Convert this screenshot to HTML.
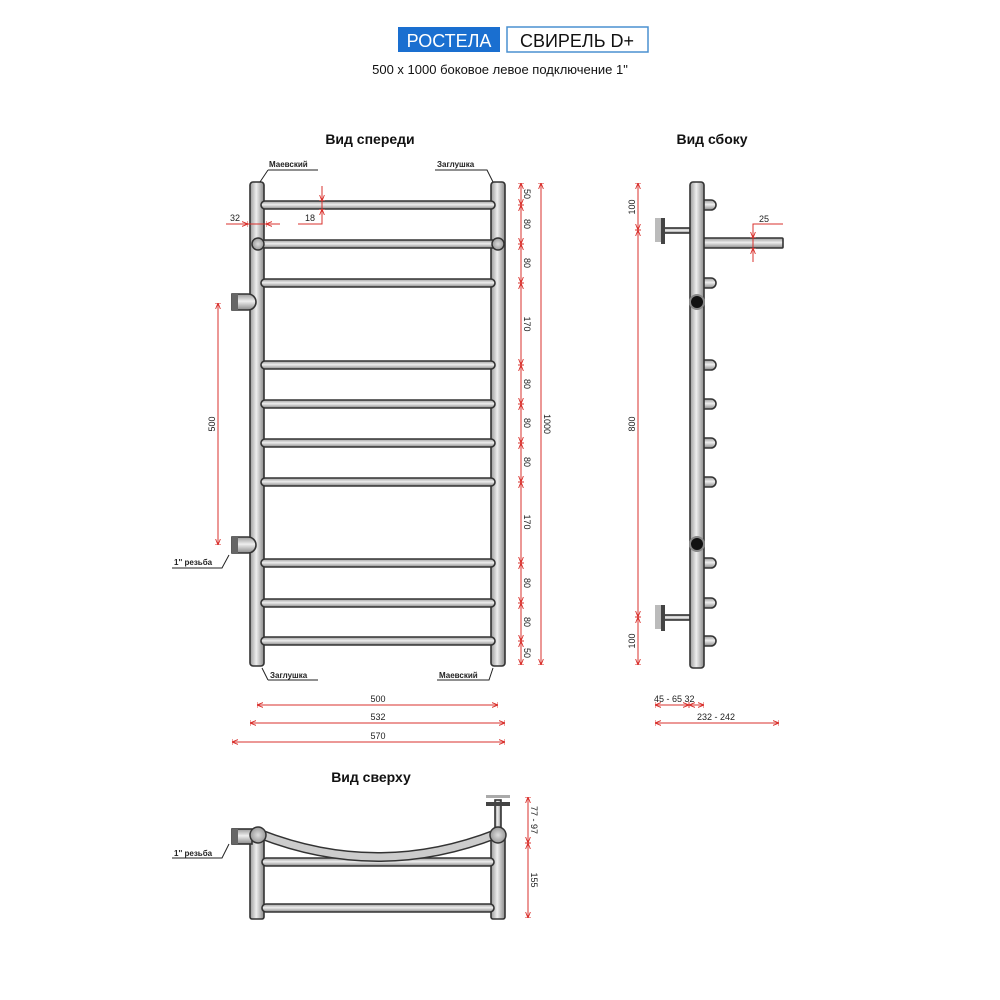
<!DOCTYPE html>
<html><head><meta charset="utf-8"><style>
body{margin:0;background:#fff}
svg{display:block;font-family:"Liberation Sans","DejaVu Sans",sans-serif}
.t{fill:url(#g);stroke:#333;stroke-width:1.6}
.th{fill:url(#gh);stroke:#333;stroke-width:1.6}
.r{stroke:#d9302c;stroke-width:1;fill:none}
.rt{fill:#222;font-size:9px}
.lb{fill:#222;font-size:8px;font-weight:bold}
.ttl{fill:#111;font-size:14px;font-weight:bold}
</style></head><body>
<svg width="1000" height="1000" viewBox="0 0 1000 1000">
<defs>
<linearGradient id="g" x1="0" y1="0" x2="0" y2="1"><stop offset="0" stop-color="#9a9a9a"/><stop offset=".45" stop-color="#eee"/><stop offset="1" stop-color="#8a8a8a"/></linearGradient>
<linearGradient id="gh" x1="0" y1="0" x2="1" y2="0"><stop offset="0" stop-color="#9a9a9a"/><stop offset=".45" stop-color="#eee"/><stop offset="1" stop-color="#8a8a8a"/></linearGradient>
<radialGradient id="gc"><stop offset="0" stop-color="#ddd"/><stop offset="1" stop-color="#999"/></radialGradient>
<marker id="a" viewBox="0 0 10 10" refX="10" refY="5" markerWidth="6" markerHeight="6" orient="auto-start-reverse"><path d="M0,1 L10,5 L0,9 M10,0 L10,10" stroke="#d9302c" fill="none" stroke-width="1.5"/></marker>
</defs>

<!-- header -->
<rect x="398" y="27" width="102" height="25" fill="#1a6fd0"/>
<text x="449" y="47" font-size="18" fill="#fff" text-anchor="middle">РОСТЕЛА</text>
<rect x="507" y="27" width="141" height="25" fill="#fff" stroke="#4a90d0" stroke-width="1.5"/>
<text x="577" y="47" font-size="18" fill="#111" text-anchor="middle">СВИРЕЛЬ D+</text>
<text x="500" y="74" font-size="13" fill="#111" text-anchor="middle">500 x 1000 боковое левое подключение 1"</text>

<text class="ttl" x="370" y="144" text-anchor="middle">Вид спереди</text>
<text class="ttl" x="712" y="144" text-anchor="middle">Вид сбоку</text>
<text class="ttl" x="371" y="782" text-anchor="middle">Вид сверху</text>

<!-- FRONT VIEW -->
<rect class="th" x="250" y="182" width="14" height="484" rx="3"/>
<rect class="th" x="491" y="182" width="14" height="484" rx="3"/>
<g>
<rect class="t" x="261" y="201" width="234" height="8" rx="4"/>
<rect class="t" x="261" y="240" width="236" height="8" rx="4"/>
<rect class="t" x="261" y="279" width="234" height="8" rx="4"/>
<rect class="t" x="261" y="361" width="234" height="8" rx="4"/>
<rect class="t" x="261" y="400" width="234" height="8" rx="4"/>
<rect class="t" x="261" y="439" width="234" height="8" rx="4"/>
<rect class="t" x="261" y="478" width="234" height="8" rx="4"/>
<rect class="t" x="261" y="559" width="234" height="8" rx="4"/>
<rect class="t" x="261" y="599" width="234" height="8" rx="4"/>
<rect class="t" x="261" y="637" width="234" height="8" rx="4"/>
</g>
<circle cx="258" cy="244" r="6" fill="url(#gc)" stroke="#333" stroke-width="1.5"/>
<circle cx="498" cy="244" r="6" fill="url(#gc)" stroke="#333" stroke-width="1.5"/>
<path class="t" d="M232,294 h16 a8,8 0 0 1 0,16 h-16 z"/>
<rect x="232" y="294" width="6" height="16" fill="#666"/>
<path class="t" d="M232,537 h16 a8,8 0 0 1 0,16 h-16 z"/>
<rect x="232" y="537" width="6" height="16" fill="#666"/>

<!-- leaders -->
<path d="M268,170 h50 M268,170 l-8,12" stroke="#222" fill="none"/><text class="lb" x="269" y="167">Маевский</text>
<path d="M435,170 h52 l6,12" stroke="#222" fill="none"/><text class="lb" x="437" y="167">Заглушка</text>
<path d="M268,680 h50 M268,680 l-6,-12" stroke="#222" fill="none"/><text class="lb" x="270" y="678">Заглушка</text>
<path d="M437,680 h52 l4,-12" stroke="#222" fill="none"/><text class="lb" x="439" y="678">Маевский</text>
<path d="M172,568 h50 l7,-13" stroke="#222" fill="none"/><text class="lb" x="174" y="565">1'' резьба</text>

<!-- front dims -->
<path class="r" d="M226,224 h54 M240,224 h0"/>
<line class="r" x1="232" y1="224" x2="248" y2="224" marker-end="url(#a)"/>
<line class="r" x1="280" y1="224" x2="266" y2="224" marker-end="url(#a)"/>
<text class="rt" x="230" y="221">32</text>
<path class="r" d="M298,224 h24 v-38"/>
<line class="r" x1="322" y1="190" x2="322" y2="201" marker-end="url(#a)"/>
<line class="r" x1="322" y1="220" x2="322" y2="209" marker-end="url(#a)"/>
<text class="rt" x="305" y="221">18</text>

<line class="r" x1="218" y1="303" x2="218" y2="545" marker-start="url(#a)" marker-end="url(#a)"/>
<text class="rt" transform="translate(215,424) rotate(-90)" text-anchor="middle">500</text>

<g>
<line class="r" x1="521" y1="183" x2="521" y2="205" marker-start="url(#a)" marker-end="url(#a)"/>
<line class="r" x1="521" y1="205" x2="521" y2="244" marker-start="url(#a)" marker-end="url(#a)"/>
<line class="r" x1="521" y1="244" x2="521" y2="283" marker-start="url(#a)" marker-end="url(#a)"/>
<line class="r" x1="521" y1="283" x2="521" y2="365" marker-start="url(#a)" marker-end="url(#a)"/>
<line class="r" x1="521" y1="365" x2="521" y2="404" marker-start="url(#a)" marker-end="url(#a)"/>
<line class="r" x1="521" y1="404" x2="521" y2="443" marker-start="url(#a)" marker-end="url(#a)"/>
<line class="r" x1="521" y1="443" x2="521" y2="482" marker-start="url(#a)" marker-end="url(#a)"/>
<line class="r" x1="521" y1="482" x2="521" y2="563" marker-start="url(#a)" marker-end="url(#a)"/>
<line class="r" x1="521" y1="563" x2="521" y2="603" marker-start="url(#a)" marker-end="url(#a)"/>
<line class="r" x1="521" y1="603" x2="521" y2="641" marker-start="url(#a)" marker-end="url(#a)"/>
<line class="r" x1="521" y1="641" x2="521" y2="665" marker-start="url(#a)" marker-end="url(#a)"/>
</g>
<g class="rt" text-anchor="middle">
<text transform="translate(524,194) rotate(90)">50</text>
<text transform="translate(524,224) rotate(90)">80</text>
<text transform="translate(524,263) rotate(90)">80</text>
<text transform="translate(524,324) rotate(90)">170</text>
<text transform="translate(524,384) rotate(90)">80</text>
<text transform="translate(524,423) rotate(90)">80</text>
<text transform="translate(524,462) rotate(90)">80</text>
<text transform="translate(524,522) rotate(90)">170</text>
<text transform="translate(524,583) rotate(90)">80</text>
<text transform="translate(524,622) rotate(90)">80</text>
<text transform="translate(524,653) rotate(90)">50</text>
</g>
<line class="r" x1="541" y1="183" x2="541" y2="665" marker-start="url(#a)" marker-end="url(#a)"/>
<text class="rt" transform="translate(544,424) rotate(90)" text-anchor="middle">1000</text>

<line class="r" x1="257" y1="705" x2="498" y2="705" marker-start="url(#a)" marker-end="url(#a)"/>
<text class="rt" x="378" y="702" text-anchor="middle">500</text>
<line class="r" x1="250" y1="723" x2="505" y2="723" marker-start="url(#a)" marker-end="url(#a)"/>
<text class="rt" x="378" y="720" text-anchor="middle">532</text>
<line class="r" x1="232" y1="742" x2="505" y2="742" marker-start="url(#a)" marker-end="url(#a)"/>
<text class="rt" x="378" y="739" text-anchor="middle">570</text>

<!-- SIDE VIEW -->
<g>
<path class="t" d="M703,200 h8 a5,5 0 0 1 0,10 h-8z"/>
<path class="t" d="M703,278 h8 a5,5 0 0 1 0,10 h-8z"/>
<path class="t" d="M703,360 h8 a5,5 0 0 1 0,10 h-8z"/>
<path class="t" d="M703,399 h8 a5,5 0 0 1 0,10 h-8z"/>
<path class="t" d="M703,438 h8 a5,5 0 0 1 0,10 h-8z"/>
<path class="t" d="M703,477 h8 a5,5 0 0 1 0,10 h-8z"/>
<path class="t" d="M703,558 h8 a5,5 0 0 1 0,10 h-8z"/>
<path class="t" d="M703,598 h8 a5,5 0 0 1 0,10 h-8z"/>
<path class="t" d="M703,636 h8 a5,5 0 0 1 0,10 h-8z"/>
</g>
<rect class="t" x="702" y="238" width="81" height="10" rx="1"/>
<rect class="t" x="664" y="228" width="26" height="5"/>
<rect x="655" y="218" width="6" height="24" fill="#bbb"/>
<rect x="661" y="218" width="4" height="26" fill="#444"/>
<rect class="t" x="664" y="615" width="26" height="5"/>
<rect x="655" y="605" width="6" height="24" fill="#bbb"/>
<rect x="661" y="605" width="4" height="26" fill="#444"/>
<rect class="th" x="690" y="182" width="14" height="486" rx="3"/>
<circle cx="697" cy="302" r="7" fill="#111" stroke="#888" stroke-width="2"/>
<circle cx="697" cy="544" r="7" fill="#111" stroke="#888" stroke-width="2"/>

<line class="r" x1="638" y1="183" x2="638" y2="230" marker-start="url(#a)" marker-end="url(#a)"/>
<line class="r" x1="638" y1="230" x2="638" y2="617" marker-start="url(#a)" marker-end="url(#a)"/>
<line class="r" x1="638" y1="617" x2="638" y2="665" marker-start="url(#a)" marker-end="url(#a)"/>
<text class="rt" transform="translate(635,207) rotate(-90)" text-anchor="middle">100</text>
<text class="rt" transform="translate(635,424) rotate(-90)" text-anchor="middle">800</text>
<text class="rt" transform="translate(635,641) rotate(-90)" text-anchor="middle">100</text>
<path class="r" d="M753,262 v-38 h30"/>
<line class="r" x1="753" y1="228" x2="753" y2="238" marker-end="url(#a)"/>
<line class="r" x1="753" y1="258" x2="753" y2="248" marker-end="url(#a)"/>
<text class="rt" x="759" y="222">25</text>

<line class="r" x1="655" y1="705" x2="689" y2="705" marker-start="url(#a)" marker-end="url(#a)"/>
<line class="r" x1="689" y1="705" x2="704" y2="705" marker-start="url(#a)" marker-end="url(#a)"/>
<text class="rt" x="654" y="702">45 - 65 32</text>
<line class="r" x1="655" y1="723" x2="779" y2="723" marker-start="url(#a)" marker-end="url(#a)"/>
<text class="rt" x="716" y="720" text-anchor="middle">232 - 242</text>

<!-- TOP VIEW -->
<rect class="th" x="250" y="835" width="14" height="84" rx="2"/>
<rect class="th" x="491" y="835" width="14" height="84" rx="2"/>
<rect class="t" x="262" y="858" width="232" height="8" rx="4"/>
<rect class="t" x="262" y="904" width="232" height="8" rx="4"/>
<path d="M260,834 Q378,880 496,834" fill="none" stroke="#333" stroke-width="10"/>
<path d="M260,834 Q378,880 496,834" fill="none" stroke="#ccc" stroke-width="7"/>
<rect class="t" x="232" y="829" width="20" height="15"/>
<rect x="232" y="829" width="6" height="15" fill="#666"/>
<rect class="th" x="495" y="800" width="6" height="30"/>
<rect x="486" y="795" width="24" height="3" fill="#aaa"/>
<rect x="486" y="802" width="24" height="4" fill="#444"/>
<circle cx="258" cy="835" r="8" fill="url(#gc)" stroke="#333" stroke-width="1.5"/>
<circle cx="498" cy="835" r="8" fill="url(#gc)" stroke="#333" stroke-width="1.5"/>
<path d="M172,858 h50 l7,-14" stroke="#222" fill="none"/><text class="lb" x="174" y="856">1'' резьба</text>
<line class="r" x1="528" y1="797" x2="528" y2="843" marker-start="url(#a)" marker-end="url(#a)"/>
<line class="r" x1="528" y1="843" x2="528" y2="918" marker-start="url(#a)" marker-end="url(#a)"/>
<text class="rt" transform="translate(531,820) rotate(90)" text-anchor="middle">77 - 97</text>
<text class="rt" transform="translate(531,880) rotate(90)" text-anchor="middle">155</text>
</svg>
</body></html>
